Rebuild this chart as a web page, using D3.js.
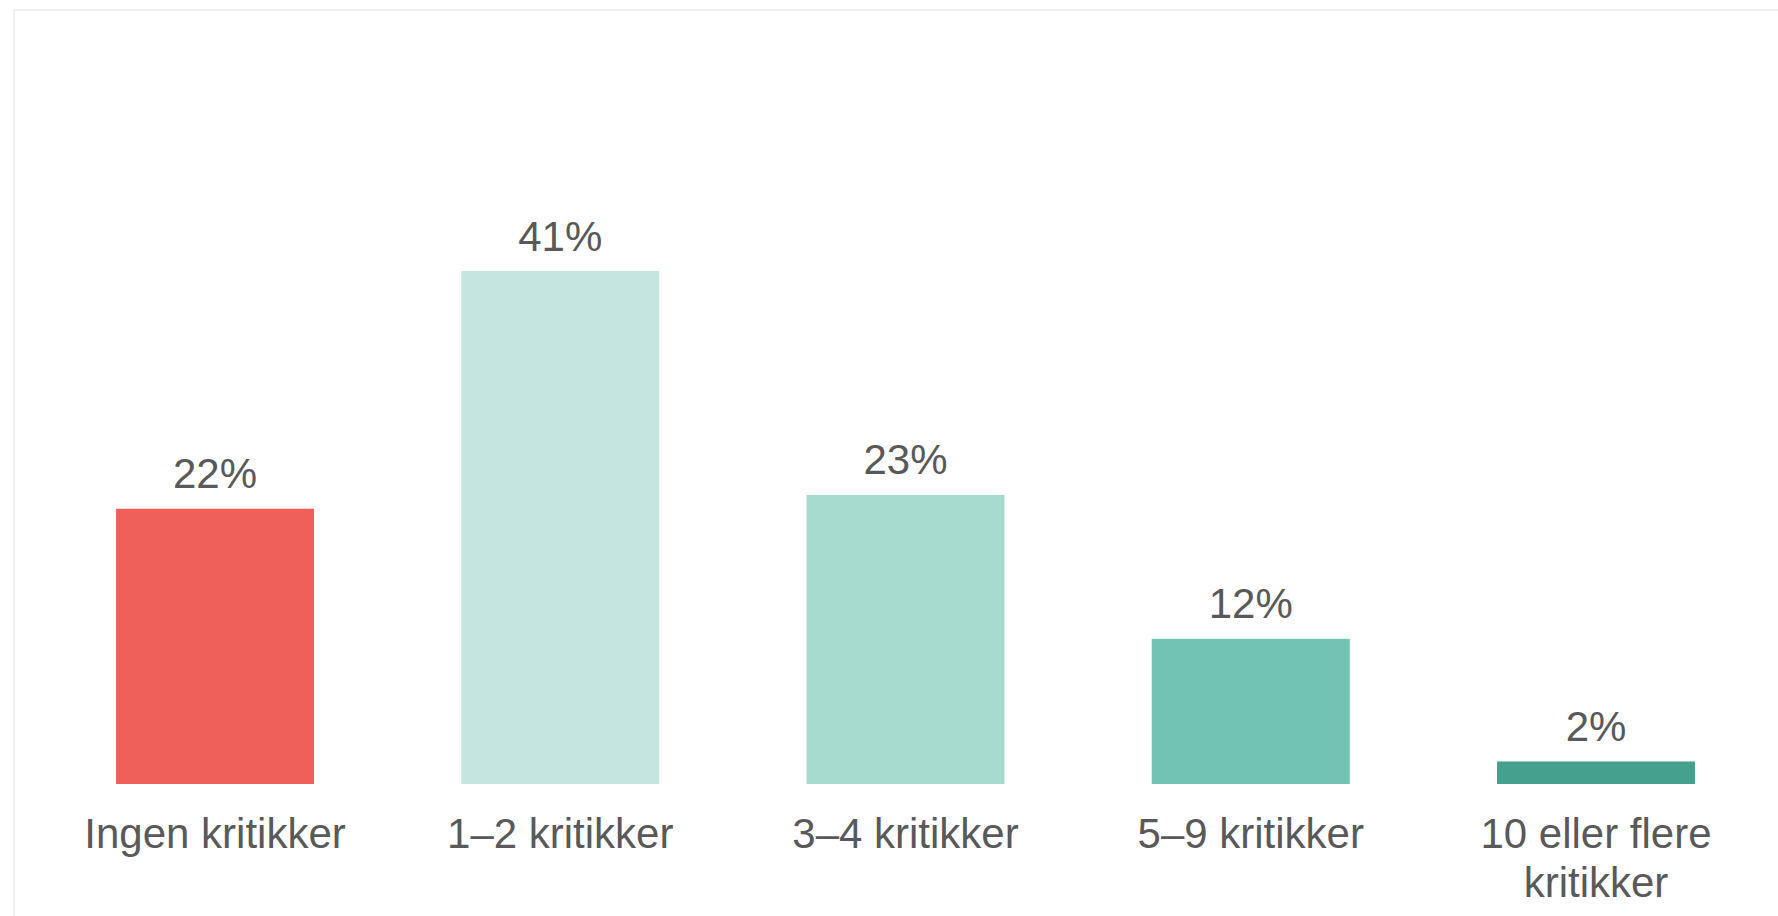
<!DOCTYPE html>
<html>
<head>
<meta charset="utf-8">
<script src="https://cdn.jsdelivr.net/npm/d3@7"></script>
<style>
  html, body { margin: 0; padding: 0; background: #fff; }
  svg { display: block; }
</style>
</head>
<body>
<svg id="chart" width="1778" height="916"></svg>
<script>
// kategorier og andeler (prosent)
const categories = ["Ingen kritikker", "1–2 kritikker", "3–4 kritikker", "5–9 kritikker", "10 eller flere kritikker"];
const labelLines = [["Ingen kritikker"], ["1–2 kritikker"], ["3–4 kritikker"], ["5–9 kritikker"], ["10 eller flere", "kritikker"]];
const values = [22.0, 41.0, 23.1, 11.6, 1.8];
const valueLabels = ["22%", "41%", "23%", "12%", "2%"];
const barColors = ["#f0605b", "#c5e6e0", "#a8dbd0", "#72c3b4", "#45a18e"];

const svg = d3.select("#chart");
const textColor = "#595959";
const baseY = 784;

// ramme (bare topp og venstre er synlig)
svg.append("line")
  .attr("x1", 13).attr("x2", 1778).attr("y1", 10).attr("y2", 10)
  .style("stroke", "#f0f0f0").style("stroke-width", 2);
svg.append("line")
  .attr("x1", 14).attr("x2", 14).attr("y1", 9).attr("y2", 916)
  .style("stroke", "#f0f0f0").style("stroke-width", 2);

const x = d3.scaleBand()
  .domain(categories)
  .range([42.4, 1768.6])
  .paddingInner(0.4265)
  .paddingOuter(0.21325);

const y = d3.scaleLinear()
  .domain([0, 41])
  .range([baseY, 271]);

// søyler
svg.selectAll("rect.bar")
  .data(values)
  .join("rect")
  .attr("class", "bar")
  .attr("x", (d, i) => x(categories[i]))
  .attr("width", x.bandwidth())
  .attr("y", d => y(d))
  .attr("height", d => y(0) - y(d))
  .style("fill", (d, i) => barColors[i]);

// verdietiketter
svg.selectAll("text.value")
  .data(values)
  .join("text")
  .attr("class", "value")
  .attr("x", (d, i) => x(categories[i]) + x.bandwidth() / 2)
  .attr("y", d => y(d) - 20.5)
  .attr("text-anchor", "middle")
  .style("font-family", "'Liberation Sans', Arial, sans-serif")
  .style("font-size", "42px")
  .style("fill", textColor)
  .text((d, i) => valueLabels[i]);

// kategorietiketter
const catText = svg.selectAll("text.cat")
  .data(categories)
  .join("text")
  .attr("class", "cat")
  .attr("x", d => x(d) + x.bandwidth() / 2)
  .attr("y", baseY + 64)
  .attr("text-anchor", "middle")
  .style("font-family", "'Liberation Sans', Arial, sans-serif")
  .style("font-size", "42px")
  .style("fill", textColor);

catText.each(function(d, i) {
  const t = d3.select(this);
  labelLines[i].forEach((line, j) => {
    t.append("tspan")
      .attr("x", x(d) + x.bandwidth() / 2)
      .attr("dy", j === 0 ? 0 : 49)
      .text(line);
  });
});
</script>
</body>
</html>
